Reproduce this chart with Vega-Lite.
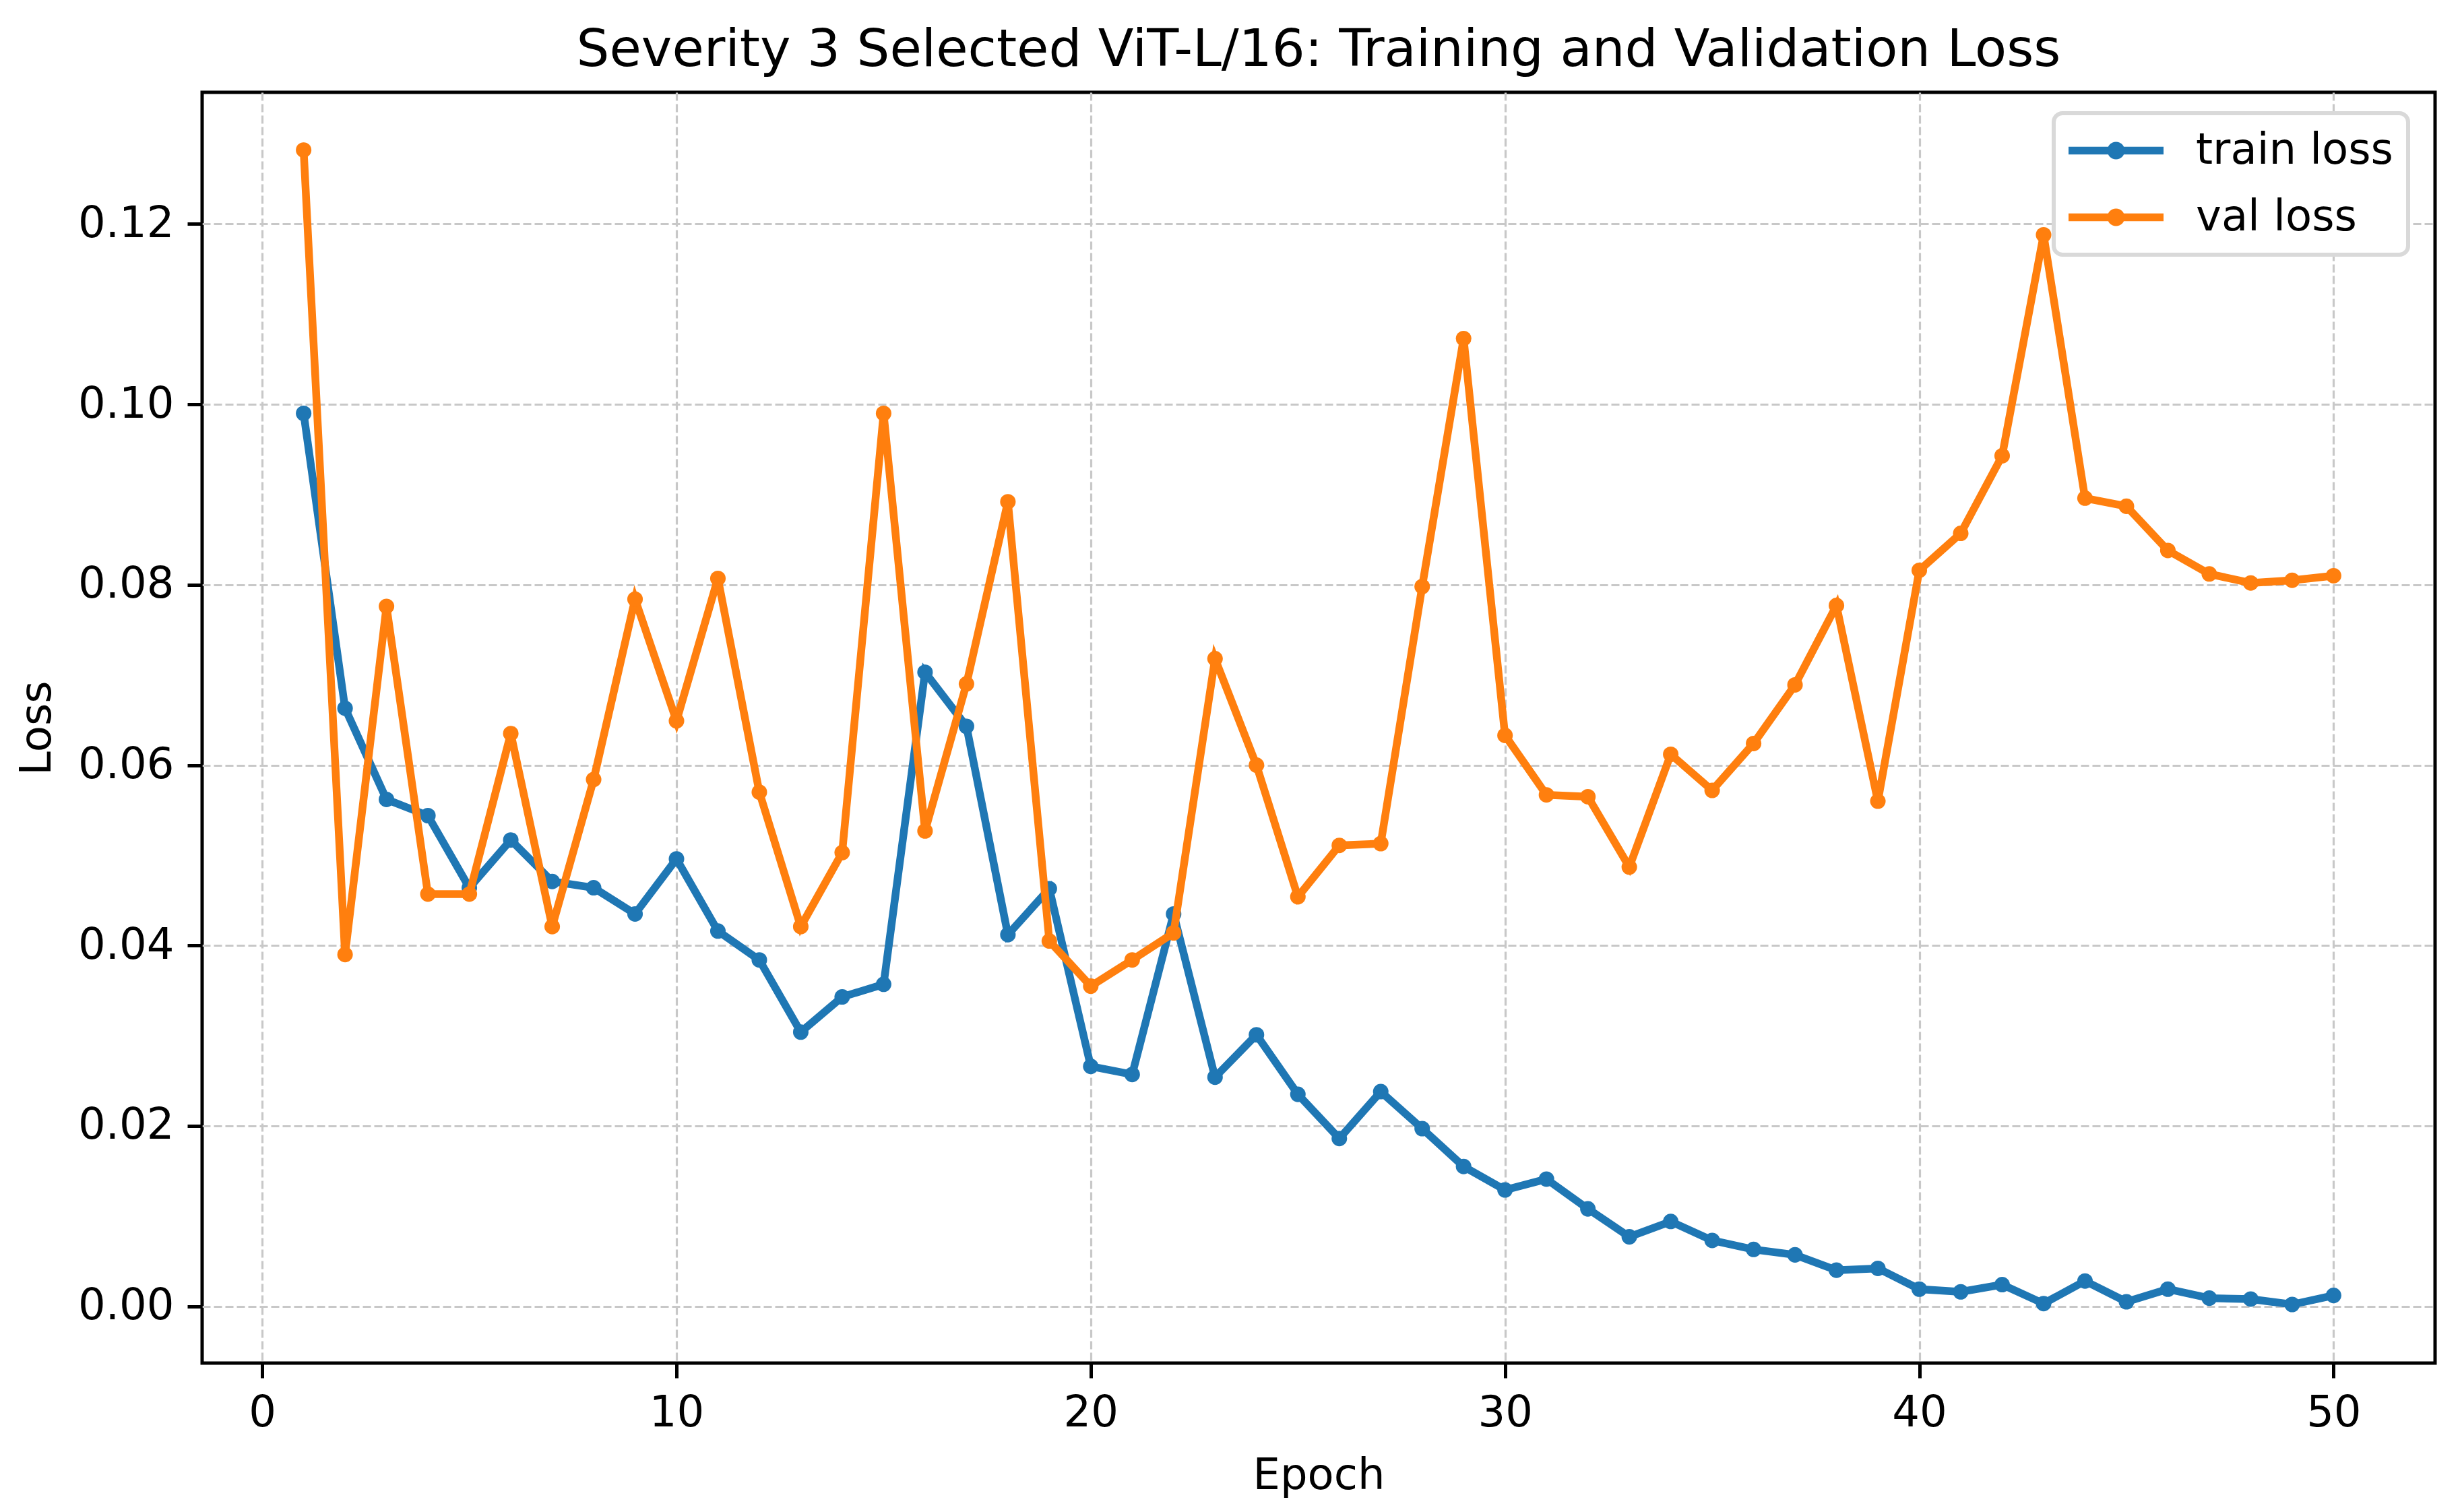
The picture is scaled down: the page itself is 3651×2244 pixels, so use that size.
{
  "$schema": "https://vega.github.io/schema/vega-lite/v6.json",
  "autosize": {"type": "none"},
  "width": 3314,
  "height": 1886,
  "padding": {"left": 300, "top": 137, "right": 37, "bottom": 221},
  "background": "#ffffff",
  "title": {
    "text": "Severity 3 Selected ViT-L/16: Training and Validation Loss",
    "font": "DejaVu Sans",
    "fontSize": 77,
    "fontWeight": "normal",
    "color": "#000000",
    "anchor": "middle",
    "frame": "group",
    "baseline": "alphabetic",
    "offset": -38
  },
  "config": {
    "view": {"stroke": "#000000", "strokeWidth": 5},
    "axis": {
      "labelFont": "DejaVu Sans",
      "labelFontSize": 64,
      "labelColor": "#000000",
      "labelPadding": 20,
      "tickSize": 22,
      "tickWidth": 5,
      "tickColor": "#000000",
      "domain": false,
      "titleFont": "DejaVu Sans",
      "titleFontSize": 64,
      "titleFontWeight": "normal",
      "titleColor": "#000000",
      "grid": true,
      "gridColor": "#c8c8c8",
      "gridWidth": 3.2,
      "gridDash": [12, 5]
    }
  },
  "data": {
    "values": [
      {"epoch": 1, "loss": 0.0990, "series": "train loss"},
      {"epoch": 2, "loss": 0.0663, "series": "train loss"},
      {"epoch": 3, "loss": 0.0562, "series": "train loss"},
      {"epoch": 4, "loss": 0.0544, "series": "train loss"},
      {"epoch": 5, "loss": 0.0464, "series": "train loss"},
      {"epoch": 6, "loss": 0.0517, "series": "train loss"},
      {"epoch": 7, "loss": 0.0471, "series": "train loss"},
      {"epoch": 8, "loss": 0.0464, "series": "train loss"},
      {"epoch": 9, "loss": 0.0435, "series": "train loss"},
      {"epoch": 10, "loss": 0.0496, "series": "train loss"},
      {"epoch": 11, "loss": 0.0416, "series": "train loss"},
      {"epoch": 12, "loss": 0.0384, "series": "train loss"},
      {"epoch": 13, "loss": 0.0304, "series": "train loss"},
      {"epoch": 14, "loss": 0.0343, "series": "train loss"},
      {"epoch": 15, "loss": 0.0357, "series": "train loss"},
      {"epoch": 16, "loss": 0.0703, "series": "train loss"},
      {"epoch": 17, "loss": 0.0643, "series": "train loss"},
      {"epoch": 18, "loss": 0.0412, "series": "train loss"},
      {"epoch": 19, "loss": 0.0463, "series": "train loss"},
      {"epoch": 20, "loss": 0.0266, "series": "train loss"},
      {"epoch": 21, "loss": 0.0257, "series": "train loss"},
      {"epoch": 22, "loss": 0.0435, "series": "train loss"},
      {"epoch": 23, "loss": 0.0254, "series": "train loss"},
      {"epoch": 24, "loss": 0.0301, "series": "train loss"},
      {"epoch": 25, "loss": 0.0235, "series": "train loss"},
      {"epoch": 26, "loss": 0.0186, "series": "train loss"},
      {"epoch": 27, "loss": 0.0238, "series": "train loss"},
      {"epoch": 28, "loss": 0.0197, "series": "train loss"},
      {"epoch": 29, "loss": 0.0155, "series": "train loss"},
      {"epoch": 30, "loss": 0.0129, "series": "train loss"},
      {"epoch": 31, "loss": 0.0141, "series": "train loss"},
      {"epoch": 32, "loss": 0.0108, "series": "train loss"},
      {"epoch": 33, "loss": 0.0077, "series": "train loss"},
      {"epoch": 34, "loss": 0.0094, "series": "train loss"},
      {"epoch": 35, "loss": 0.0073, "series": "train loss"},
      {"epoch": 36, "loss": 0.0063, "series": "train loss"},
      {"epoch": 37, "loss": 0.0057, "series": "train loss"},
      {"epoch": 38, "loss": 0.0040, "series": "train loss"},
      {"epoch": 39, "loss": 0.0042, "series": "train loss"},
      {"epoch": 40, "loss": 0.0019, "series": "train loss"},
      {"epoch": 41, "loss": 0.0016, "series": "train loss"},
      {"epoch": 42, "loss": 0.0024, "series": "train loss"},
      {"epoch": 43, "loss": 0.0003, "series": "train loss"},
      {"epoch": 44, "loss": 0.0028, "series": "train loss"},
      {"epoch": 45, "loss": 0.0005, "series": "train loss"},
      {"epoch": 46, "loss": 0.0019, "series": "train loss"},
      {"epoch": 47, "loss": 0.0009, "series": "train loss"},
      {"epoch": 48, "loss": 0.0008, "series": "train loss"},
      {"epoch": 49, "loss": 0.0002, "series": "train loss"},
      {"epoch": 50, "loss": 0.0012, "series": "train loss"},
      {"epoch": 1, "loss": 0.1282, "series": "val loss"},
      {"epoch": 2, "loss": 0.0390, "series": "val loss"},
      {"epoch": 3, "loss": 0.0776, "series": "val loss"},
      {"epoch": 4, "loss": 0.0457, "series": "val loss"},
      {"epoch": 5, "loss": 0.0457, "series": "val loss"},
      {"epoch": 6, "loss": 0.0635, "series": "val loss"},
      {"epoch": 7, "loss": 0.0421, "series": "val loss"},
      {"epoch": 8, "loss": 0.0584, "series": "val loss"},
      {"epoch": 9, "loss": 0.0784, "series": "val loss"},
      {"epoch": 10, "loss": 0.0649, "series": "val loss"},
      {"epoch": 11, "loss": 0.0807, "series": "val loss"},
      {"epoch": 12, "loss": 0.0570, "series": "val loss"},
      {"epoch": 13, "loss": 0.0421, "series": "val loss"},
      {"epoch": 14, "loss": 0.0503, "series": "val loss"},
      {"epoch": 15, "loss": 0.0990, "series": "val loss"},
      {"epoch": 16, "loss": 0.0527, "series": "val loss"},
      {"epoch": 17, "loss": 0.0690, "series": "val loss"},
      {"epoch": 18, "loss": 0.0892, "series": "val loss"},
      {"epoch": 19, "loss": 0.0405, "series": "val loss"},
      {"epoch": 20, "loss": 0.0355, "series": "val loss"},
      {"epoch": 21, "loss": 0.0384, "series": "val loss"},
      {"epoch": 22, "loss": 0.0414, "series": "val loss"},
      {"epoch": 23, "loss": 0.0718, "series": "val loss"},
      {"epoch": 24, "loss": 0.0600, "series": "val loss"},
      {"epoch": 25, "loss": 0.0454, "series": "val loss"},
      {"epoch": 26, "loss": 0.0511, "series": "val loss"},
      {"epoch": 27, "loss": 0.0513, "series": "val loss"},
      {"epoch": 28, "loss": 0.0798, "series": "val loss"},
      {"epoch": 29, "loss": 0.1073, "series": "val loss"},
      {"epoch": 30, "loss": 0.0633, "series": "val loss"},
      {"epoch": 31, "loss": 0.0567, "series": "val loss"},
      {"epoch": 32, "loss": 0.0565, "series": "val loss"},
      {"epoch": 33, "loss": 0.0487, "series": "val loss"},
      {"epoch": 34, "loss": 0.0612, "series": "val loss"},
      {"epoch": 35, "loss": 0.0572, "series": "val loss"},
      {"epoch": 36, "loss": 0.0624, "series": "val loss"},
      {"epoch": 37, "loss": 0.0689, "series": "val loss"},
      {"epoch": 38, "loss": 0.0777, "series": "val loss"},
      {"epoch": 39, "loss": 0.0560, "series": "val loss"},
      {"epoch": 40, "loss": 0.0816, "series": "val loss"},
      {"epoch": 41, "loss": 0.0857, "series": "val loss"},
      {"epoch": 42, "loss": 0.0943, "series": "val loss"},
      {"epoch": 43, "loss": 0.1188, "series": "val loss"},
      {"epoch": 44, "loss": 0.0896, "series": "val loss"},
      {"epoch": 45, "loss": 0.0887, "series": "val loss"},
      {"epoch": 46, "loss": 0.0838, "series": "val loss"},
      {"epoch": 47, "loss": 0.0812, "series": "val loss"},
      {"epoch": 48, "loss": 0.0802, "series": "val loss"},
      {"epoch": 49, "loss": 0.0805, "series": "val loss"},
      {"epoch": 50, "loss": 0.0810, "series": "val loss"}
    ]
  },
  "encoding": {
    "x": {
      "field": "epoch",
      "type": "quantitative",
      "title": "Epoch",
      "scale": {"domain": [-1.45, 52.45], "nice": false, "zero": false},
      "axis": {"values": [0, 10, 20, 30, 40, 50], "format": "d", "titlePadding": 29}
    },
    "y": {
      "field": "loss",
      "type": "quantitative",
      "title": "Loss",
      "scale": {"domain": [-0.0063, 0.1346], "nice": false, "zero": false},
      "axis": {"values": [0, 0.02, 0.04, 0.06, 0.08, 0.1, 0.12], "format": ".2f", "titlePadding": 28}
    },
    "color": {
      "field": "series",
      "type": "nominal",
      "scale": {"domain": ["train loss", "val loss"], "range": ["#1f77b4", "#ff7f0e"]},
      "legend": {
        "title": null,
        "orient": "none",
        "legendX": 2748,
        "legendY": 31,
        "direction": "vertical",
        "labelFont": "DejaVu Sans",
        "labelFontSize": 64,
        "labelColor": "#000000",
        "labelOffset": 48,
        "labelLimit": 600,
        "clipHeight": 67,
        "rowPadding": 32,
        "padding": 22,
        "fillColor": "#ffffff",
        "strokeColor": "#d9d9d9",
        "cornerRadius": 13,
        "symbolType": "M-1,-0.0816 L-0.16,-0.0816 L-0.16,0.0816 L-1,0.0816 Z M0.16,-0.0816 L1,-0.0816 L1,0.0816 L0.16,0.0816 Z M-0.184,0 A0.184,0.184 0 1,1 0.184,0 A0.184,0.184 0 1,1 -0.184,0 Z",
        "symbolSize": 19881,
        "symbolStrokeWidth": 0,
        "encode": {
          "legend": {
            "update": {
              "strokeWidth": {"value": 6}
            }
          },
          "symbols": {
            "update": {
              "fill": {"scale": "color", "field": "value"},
              "strokeWidth": {"value": 0},
              "opacity": {"value": 1},
              "size": {"value": 19881}
            }
          }
        }
      }
    }
  },
  "layer": [
    {
      "transform": [{"filter": "datum.series === 'train loss'"}],
      "mark": {"type": "line", "strokeWidth": 11.5}
    },
    {
      "transform": [{"filter": "datum.series === 'train loss'"}],
      "mark": {"type": "circle", "size": 531, "opacity": 1}
    },
    {
      "transform": [{"filter": "datum.series === 'val loss'"}],
      "mark": {"type": "line", "strokeWidth": 11.5}
    },
    {
      "transform": [{"filter": "datum.series === 'val loss'"}],
      "mark": {"type": "circle", "size": 531, "opacity": 1}
    }
  ]
}
